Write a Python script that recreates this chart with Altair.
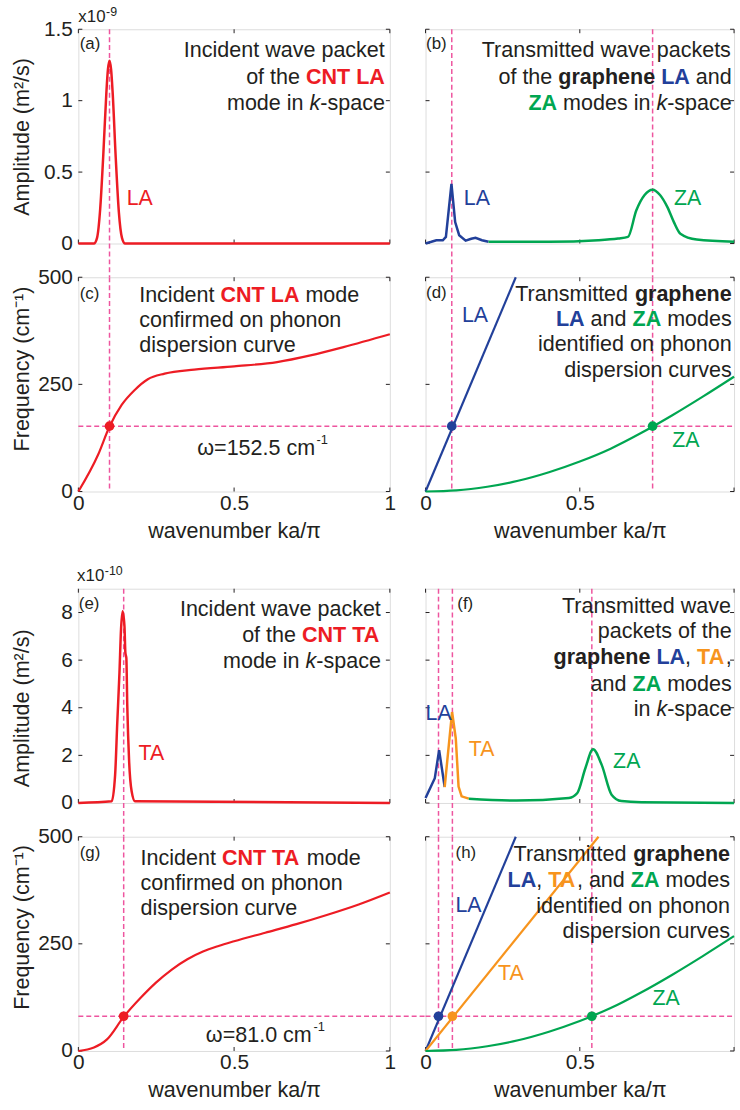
import altair as alt
import pandas as pd

# ---------------- data ----------------
X_TICKS = [0, 0.5, 1]
X_LABELS_RIGHT = [0, 0.5]
AMP9_TICKS = [0, 0.5, 1, 1.5]
AMP10_TICKS = [0, 2, 4, 6, 8]
FREQ_TICKS = [0, 250, 500]

# (a) incident CNT LA wave packet (amplitude in 1e-9 m^2/s)
a_k = [0.0, 0.05, 0.06, 0.07, 0.08, 0.09, 0.095, 0.10, 0.105, 0.11, 0.12, 0.13, 0.14, 0.15, 1.0]
a_amp = [0.0, 0.0, 0.04, 0.24, 0.62, 1.06, 1.22, 1.28, 1.22, 1.06, 0.60, 0.22, 0.04, 0.0, 0.0]

# (b) transmitted graphene LA / ZA packets (1e-9 m^2/s)
b_la_k = [0.0, 0.019, 0.035, 0.056, 0.066, 0.084, 0.096, 0.109, 0.13, 0.148, 0.162, 0.183, 0.204]
b_la_amp = [0.0, 0.012, 0.023, 0.023, 0.046, 0.417, 0.15, 0.058, 0.02, 0.033, 0.04, 0.023, 0.012]
b_za_k = [0.204, 0.4, 0.56, 0.624, 0.656, 0.683, 0.71, 0.736, 0.76, 0.784, 0.805, 0.826, 0.879, 1.0]
b_za_amp = [0.012, 0.012, 0.023, 0.035, 0.046, 0.231, 0.34, 0.377, 0.34, 0.255, 0.15, 0.069, 0.028, 0.012]

# (e) incident CNT TA wave packet (1e-10 m^2/s)
e_k = [0.0, 0.107, 0.118, 0.125, 0.132, 0.137, 0.142, 0.148, 0.151, 0.154, 0.157, 0.163, 0.171, 0.182, 1.0]
e_amp = [0.0, 0.07, 1.18, 3.4, 5.49, 7.3, 8.05, 7.43, 6.3, 6.1, 4.1, 1.74, 0.49, 0.07, 0.0]

# (f) transmitted graphene LA / TA / ZA packets (1e-10 m^2/s)
f_la_k = [0.0, 0.03, 0.044, 0.062]
f_la_amp = [0.21, 1.04, 2.22, 0.67]
f_ta_k = [0.062, 0.086, 0.098, 0.107, 0.117, 0.14]
f_ta_amp = [0.67, 3.82, 2.71, 0.69, 0.28, 0.18]
f_za_k = [0.14, 0.295, 0.465, 0.492, 0.518, 0.543, 0.571, 0.603, 0.635, 0.7, 1.0]
f_za_amp = [0.18, 0.1, 0.21, 0.42, 1.46, 2.26, 1.6, 0.35, 0.08, 0.03, 0.0]

# dispersion curves (cm^-1)
cnt_la_k = [0.0, 0.064, 0.099, 0.139, 0.181, 0.223, 0.277, 0.372, 0.5, 0.638, 0.745, 0.851, 1.0]
cnt_la_f = [0.0, 87, 150, 202, 237, 262, 275, 284.5, 292, 302, 317.7, 337, 367]
cnt_ta_k = [0.0, 0.05, 0.092, 0.146, 0.2, 0.25, 0.3, 0.35, 0.4, 0.45, 0.5, 0.6, 0.7, 0.8, 0.9, 1.0]
cnt_ta_f = [0.0, 8, 27, 80, 124, 160, 190, 214, 232, 245, 256, 276, 296, 318, 342, 370]
gr_la_k = [0.0, 0.2925]
gr_la_f = [0.0, 500]
gr_ta_k = [0.0, 0.5606]
gr_ta_f = [0.0, 500]
gr_za_k = [0.0, 0.1, 0.2, 0.3, 0.4, 0.5, 0.6, 0.7, 0.8, 0.9, 1.0]
gr_za_f = [0.0, 2.5, 11, 25, 45, 70, 100, 137, 178, 222, 268]

OMEGA_LA = 152.5
OMEGA_TA = 81.0
K_CNT_LA = 0.1
K_GR_B = [0.085, 0.736]          # graphene LA, ZA (LA case)
K_CNT_TA = 0.1455
K_GR_F = [0.042, 0.087, 0.539]   # graphene LA, TA, ZA (TA case)

# ---------------- style ----------------
FONT = "Liberation Sans, Arial, Helvetica, sans-serif"
DARK = "#231F20"
RED = "#ED1C24"
BLUE = "#22409A"
GREEN = "#00A651"
ORANGE = "#F7941D"
PINK = "#EE559F"
FS_TXT = 21.7
FS_TICK = 21
FS_TAG = 17
FS_MODE = 21.5
WL, WR, H = 314, 311, 216
GAP_ROW, GAP_COL = 34, 36
TICK = 4
LABEL_EXPR = "'' + datum.value"

REG = {' ': 278, ',': 278, '-': 333, '.': 278, '(': 333, ')': 333, '/': 278, '=': 584,
       '0': 556, '1': 556, 'x': 500,
       'A': 667, 'C': 722, 'I': 278, 'L': 556, 'N': 722, 'T': 611, 'Z': 611,
       'a': 556, 'b': 556, 'c': 500, 'd': 556, 'e': 556, 'f': 278, 'g': 556, 'h': 556,
       'i': 222, 'k': 500, 'l': 222, 'm': 833, 'n': 556, 'o': 556, 'p': 556, 'r': 333,
       's': 500, 't': 278, 'u': 556, 'v': 500, 'w': 722, 'y': 500}
BOLD = {' ': 278, ',': 278, 'A': 722, 'C': 722, 'L': 611, 'N': 722, 'T': 611, 'Z': 611,
        'a': 556, 'e': 556, 'g': 611, 'h': 611, 'n': 611, 'p': 611, 'r': 389}


def tw(s, bold=False, fs=FS_TXT):
    tab = BOLD if bold else REG
    return sum(tab.get(c, 556) for c in s) * fs / 1000.0


def N(s):
    return (s, DARK, False, False)


def B(s, color=DARK):
    return (s, color, True, False)


def I(s):
    return (s, DARK, False, True)


def yaxis_left(values, title, title_y):
    return alt.Axis(values=values, labelExpr=LABEL_EXPR, ticks=False, tickSize=0, domain=False, grid=False,
                    labelFont=FONT, labelFontSize=FS_TICK, labelColor=DARK, labelPadding=6,
                    title=title, titleFont=FONT, titleFontSize=FS_TXT, titleFontWeight="normal",
                    titleColor=DARK, titleX=-57, titleY=title_y, titleAngle=270,
                    titleBaseline="middle", titleAlign="center")


def xaxis_bottom(values):
    return alt.Axis(values=values, labelExpr=LABEL_EXPR, ticks=False, tickSize=0, domain=False, grid=False,
                    labelFont=FONT, labelFontSize=FS_TICK, labelColor=DARK, labelPadding=1,
                    labelFlush=False,
                    title="wavenumber ka/π", titleFont=FONT, titleFontSize=FS_TXT,
                    titleFontWeight="normal", titleColor=DARK, titleY=39, titleBaseline="middle")


class Panel:
    def __init__(self, W, ydom, xaxis=None, yaxis=None):
        self.W = W
        self.ydom = ydom
        self.xaxis = xaxis
        self.yaxis = yaxis
        self.layers = []

    def X(self):
        return alt.X("k:Q", scale=alt.Scale(domain=[0, 1], nice=False, zero=False), axis=self.xaxis)

    def Y(self):
        return alt.Y("v:Q", scale=alt.Scale(domain=self.ydom, nice=False, zero=False), axis=self.yaxis)

    def ticks(self, xt, yt):
        dx = pd.DataFrame({"k": xt})
        dy = pd.DataFrame({"v": yt})
        st = dict(color=DARK, strokeWidth=1)
        self.layers += [
            alt.Chart(dx).mark_rule(**st).encode(x=self.X(), y=alt.value(H - TICK), y2=alt.value(H)),
            alt.Chart(dx).mark_rule(**st).encode(x=self.X(), y=alt.value(0), y2=alt.value(TICK)),
            alt.Chart(dy).mark_rule(**st).encode(y=self.Y(), x=alt.value(0), x2=alt.value(TICK)),
            alt.Chart(dy).mark_rule(**st).encode(y=self.Y(), x=alt.value(self.W - TICK), x2=alt.value(self.W)),
        ]

    def vlines(self, ks, extend):
        self.layers.append(
            alt.Chart(pd.DataFrame({"k": ks})).mark_rule(color=PINK, strokeDash=[5, 3], strokeWidth=1.5)
            .encode(x=self.X(), y=alt.value(0), y2=alt.value(H + extend)))

    def hline(self, v, extend):
        self.layers.append(
            alt.Chart(pd.DataFrame({"v": [v]})).mark_rule(color=PINK, strokeDash=[5, 3], strokeWidth=1.5)
            .encode(y=self.Y(), x=alt.value(0), x2=alt.value(self.W + extend)))

    def curve(self, ks, vs, color, interp="monotone", width=2.5):
        self.layers.append(
            alt.Chart(pd.DataFrame({"k": ks, "v": vs})).mark_line(color=color, strokeWidth=width,
                                                                  interpolate=interp)
            .encode(x=self.X(), y=self.Y()))

    def dots(self, ks, vs, color):
        self.layers.append(
            alt.Chart(pd.DataFrame({"k": ks, "v": vs})).mark_circle(color=color, size=95, opacity=1)
            .encode(x=self.X(), y=self.Y()))

    def label(self, s, k, v, color):
        self.layers.append(
            alt.Chart(pd.DataFrame({"k": [k], "v": [v]}))
            .mark_text(text=s, font=FONT, fontSize=FS_MODE, color=color, align="left", baseline="middle")
            .encode(x=self.X(), y=self.Y()))

    def ptext(self, s, x, y, size=FS_TXT, color=DARK, align="left", bold=False, italic=False):
        self.layers.append(
            alt.Chart(pd.DataFrame({"z": [0]}))
            .mark_text(text=s, font=FONT, fontSize=size, color=color, align=align, baseline="middle",
                       fontWeight="bold" if bold else "normal",
                       fontStyle="italic" if italic else "normal")
            .encode(x=alt.value(x), y=alt.value(y)))

    def line(self, y, segs, right=None, left=None):
        widths = [tw(s, b) for s, c, b, i in segs]
        x = (right - sum(widths)) if right is not None else left
        for (s, c, b, i), w in zip(segs, widths):
            core = s.strip(" ")
            lead = tw(s[: len(s) - len(s.lstrip(" "))])
            if core:
                self.ptext(core, x + lead, y, FS_TXT, c, "left", bold=b, italic=i)
            x += w

    def multiplier(self, exp, x, y):
        self.ptext("x10", x, y, 17)
        self.ptext(exp, x + tw("x10", fs=17) + 0.5, y - 5, 12.5)

    def chart(self):
        return alt.layer(*self.layers).properties(width=self.W, height=H)


# ---------------- (a) ----------------
pa = Panel(WL, [0, 1.5], None, yaxis_left(AMP9_TICKS, "Amplitude (m²/s)", 108))
pa.ticks(X_TICKS, AMP9_TICKS)
pa.vlines([K_CNT_LA], GAP_ROW)
pa.curve(a_k, a_amp, RED)
pa.label("LA", 0.155, 0.31, RED)
pa.ptext("(a)", 1.3, 14.5, FS_TAG)
pa.line(21, [N("Incident wave packet")], right=309)
pa.line(47.7, [N("of the "), B("CNT LA", RED)], right=309)
pa.line(74.3, [N("mode in "), I("k"), N("-space")], right=309)
pa.multiplier("-9", 0, -12.3)
pa.layers.append(alt.Chart(pd.DataFrame({"z": [0]})).mark_circle(color="white", size=1, opacity=1)
                 .encode(x=alt.value(-77.5), y=alt.value(-23.5)))

# ---------------- (b) ----------------
pb = Panel(WR, [0, 1.5])
pb.ticks(X_TICKS, AMP9_TICKS)
pb.vlines(K_GR_B, GAP_ROW)
pb.curve(b_la_k, b_la_amp, BLUE, "linear")
pb.curve(b_za_k, b_za_amp, GREEN)
pb.label("LA", 0.124, 0.31, BLUE)
pb.label("ZA", 0.805, 0.31, GREEN)
pb.ptext("(b)", 0.5, 15, FS_TAG)
pb.line(21, [N("Transmitted wave packets")], right=308.7)
pb.line(47.7, [N("of the "), B("graphene"), N(" "), B("LA", BLUE), N(" and")], right=308.7)
pb.line(74.3, [B("ZA", GREEN), N(" modes in "), I("k"), N("-space")], right=308.7)

# ---------------- (c) ----------------
pc = Panel(WL, [0, 500], xaxis_bottom(X_TICKS), yaxis_left(FREQ_TICKS, "Frequency (cm⁻¹)", 92))
pc.ticks(X_TICKS, FREQ_TICKS)
pc.vlines([K_CNT_LA], 0)
pc.hline(OMEGA_LA, GAP_COL)
pc.curve(cnt_la_k, cnt_la_f, RED, width=2.2)
pc.dots([K_CNT_LA], [OMEGA_LA], RED)
pc.ptext("(c)", 1.3, 16.5, FS_TAG)
pc.line(18.3, [N("Incident "), B("CNT LA", RED), N(" mode")], left=61.3)
pc.line(43.3, [N("confirmed on phonon")], left=61.3)
pc.line(68.3, [N("dispersion curve")], left=61.3)
pc.ptext("ω=152.5 cm", 238.7, 172, FS_TXT, DARK, "right")
pc.ptext("-1", 240, 164, 13)

# ---------------- (d) ----------------
pd_ = Panel(WR, [0, 500], xaxis_bottom(X_LABELS_RIGHT))
pd_.ticks(X_TICKS, FREQ_TICKS)
pd_.vlines(K_GR_B, 0)
pd_.hline(OMEGA_LA, 0)
pd_.curve(gr_la_k, gr_la_f, BLUE, "linear", 2.2)
pd_.curve(gr_za_k, gr_za_f, GREEN, width=2.2)
pd_.dots([K_GR_B[0]], [OMEGA_LA], BLUE)
pd_.dots([K_GR_B[1]], [OMEGA_LA], GREEN)
pd_.label("LA", 0.118, 410, BLUE)
pd_.label("ZA", 0.80, 118, GREEN)
pd_.ptext("(d)", 0.5, 16, FS_TAG)
pd_.line(16.7, [N("Transmitted "), B("graphene")], right=308.7)
pd_.line(41.7, [B("LA", BLUE), N(" and "), B("ZA", GREEN), N(" modes")], right=308.7)
pd_.line(67.7, [N("identified on phonon")], right=308.7)
pd_.line(93.3, [N("dispersion curves")], right=308.7)

# ---------------- (e) ----------------
pe = Panel(WL, [0, 9], None, yaxis_left(AMP10_TICKS, "Amplitude (m²/s)", 120))
pe.ticks(X_TICKS, AMP10_TICKS)
pe.vlines([K_CNT_TA], GAP_ROW)
pe.curve(e_k, e_amp, RED)
pe.label("TA", 0.193, 2.05, RED)
pe.ptext("(e)", 0.5, 15, FS_TAG)
pe.line(21, [N("Incident wave packet")], right=305)
pe.line(47, [N("of the "), B("CNT TA", RED)], right=305)
pe.line(72.7, [N("mode in "), I("k"), N("-space")], right=305)
pe.multiplier("-10", -1.3, -13)

# ---------------- (f) ----------------
pf = Panel(WR, [0, 9])
pf.ticks(X_TICKS, AMP10_TICKS)
pf.vlines(K_GR_F, GAP_ROW)
pf.curve(f_la_k, f_la_amp, BLUE, "linear")
pf.curve(f_ta_k, f_ta_amp, ORANGE, "linear")
pf.curve(f_za_k, f_za_amp, GREEN)
pf.label("LA", 0.0, 3.72, BLUE)
pf.label("TA", 0.14, 2.22, ORANGE)
pf.label("ZA", 0.608, 1.7, GREEN)
pf.ptext("(f)", 32, 15, FS_TAG)
pf.line(17.7, [N("Transmitted wave")], right=308.7)
pf.line(42.7, [N("packets of the")], right=308.7)
pf.line(69.3, [B("graphene"), N(" "), B("LA", BLUE), N(", "), B("TA", ORANGE), N(",")], right=308.7)
pf.line(96, [N("and "), B("ZA", GREEN), N(" modes")], right=308.7)
pf.line(121, [N("in "), I("k"), N("-space")], right=308.7)

# ---------------- (g) ----------------
pg = Panel(WL, [0, 500], xaxis_bottom(X_TICKS), yaxis_left(FREQ_TICKS, "Frequency (cm⁻¹)", 91))
pg.ticks(X_TICKS, FREQ_TICKS)
pg.vlines([K_CNT_TA], 0)
pg.hline(OMEGA_TA, GAP_COL)
pg.curve(cnt_ta_k, cnt_ta_f, RED, width=2.2)
pg.dots([K_CNT_TA], [OMEGA_TA], RED)
pg.ptext("(g)", 1.3, 16, FS_TAG)
pg.line(21.3, [N("Incident "), B("CNT TA", RED), N(" mode")], left=62.7)
pg.line(47, [N("confirmed on phonon")], left=62.7)
pg.line(72, [N("dispersion curve")], left=62.7)
pg.ptext("ω=81.0 cm", 235.3, 200, FS_TXT, DARK, "right")
pg.ptext("-1", 237, 192, 13)

# ---------------- (h) ----------------
ph = Panel(WR, [0, 500], xaxis_bottom(X_LABELS_RIGHT))
ph.ticks(X_TICKS, FREQ_TICKS)
ph.vlines(K_GR_F, 0)
ph.hline(OMEGA_TA, 0)
ph.curve(gr_la_k, gr_la_f, BLUE, "linear", 2.2)
ph.curve(gr_ta_k, gr_ta_f, ORANGE, "linear", 2.2)
ph.curve(gr_za_k, gr_za_f, GREEN, width=2.2)
ph.dots([K_GR_F[0]], [OMEGA_TA], BLUE)
ph.dots([K_GR_F[1]], [OMEGA_TA], ORANGE)
ph.dots([K_GR_F[2]], [OMEGA_TA], GREEN)
ph.label("LA", 0.097, 338, BLUE)
ph.label("TA", 0.235, 180, ORANGE)
ph.label("ZA", 0.736, 122, GREEN)
ph.ptext("(h)", 30.3, 16, FS_TAG)
ph.line(17, [N("Transmitted "), B("graphene")], right=307)
ph.line(43.7, [B("LA", BLUE), N(", "), B("TA", ORANGE), N(", and "), B("ZA", GREEN), N(" modes")], right=307)
ph.line(70.3, [N("identified on phonon")], right=307)
ph.line(95.3, [N("dispersion curves")], right=307)


def spacer(W):
    return (alt.Chart(pd.DataFrame({"z": [0]})).mark_point(opacity=0)
            .encode(x=alt.value(0), y=alt.value(0))
            .properties(width=W, height=98 - 2 * GAP_ROW, view=alt.ViewBackground(strokeOpacity=0)))


chart = alt.concat(
    pa.chart(), pb.chart(), pc.chart(), pd_.chart(),
    spacer(WL), spacer(WR),
    pe.chart(), pf.chart(), pg.chart(), ph.chart(),
    columns=2, spacing={"row": GAP_ROW, "column": GAP_COL}, bounds="flush", align="each",
).properties(
    padding={"left": 0, "top": 0, "right": 0, "bottom": 0}, background="white"
).configure_view(stroke=DARK, strokeWidth=1).configure(font=FONT)

chart.save("out.html", embed_options={"renderer": "svg", "actions": False})
